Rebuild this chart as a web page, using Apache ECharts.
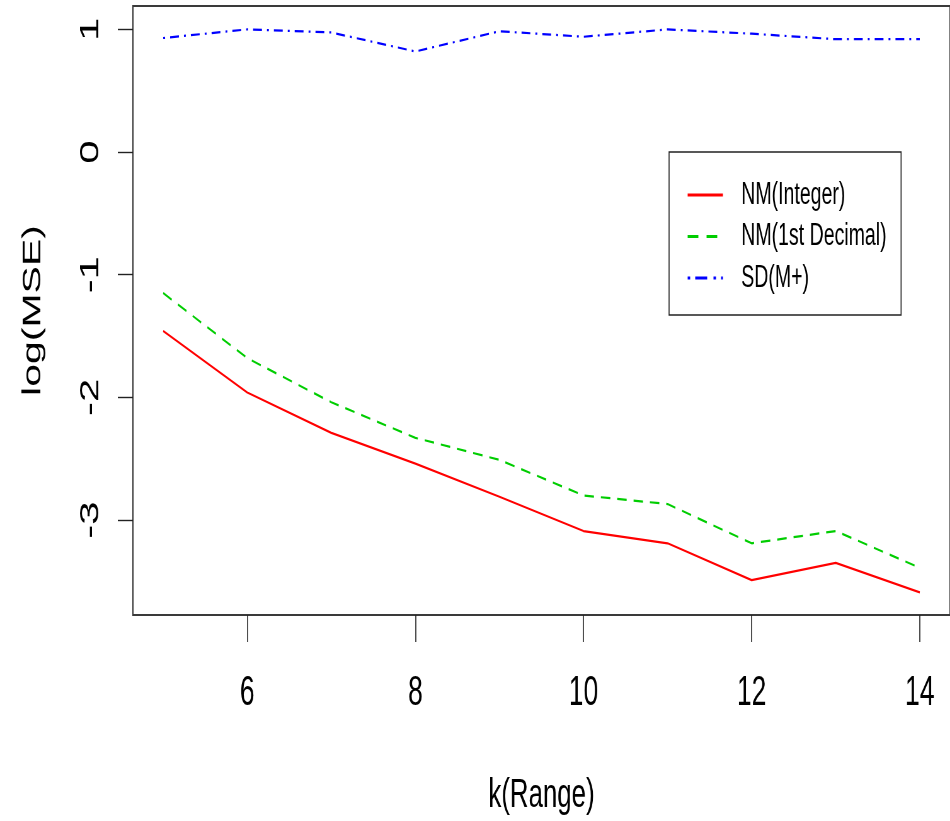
<!DOCTYPE html>
<html>
<head>
<meta charset="utf-8">
<script src="https://cdn.jsdelivr.net/npm/echarts@6/dist/echarts.min.js"></script>
<style>
html,body{margin:0;padding:0;background:#fff;overflow:hidden;}
#wrap{width:950px;height:821px;overflow:hidden;position:relative;}
#chart{width:1508px;height:821px;transform:scaleX(0.63);transform-origin:0 0;position:absolute;left:0;top:0;}
</style>
</head>
<body>
<div id="wrap"><div id="chart"></div></div>
<script>
// Data
const kRange = [5, 6, 7, 8, 9, 10, 11, 12, 13, 14];
const nmInteger = [-1.46, -1.96, -2.29, -2.54, -2.81, -3.09, -3.19, -3.49, -3.35, -3.59];
const nmDecimal = [-1.15, -1.68, -2.04, -2.33, -2.51, -2.80, -2.87, -3.19, -3.09, -3.39];
const sdMplus   = [0.93, 1.00, 0.975, 0.82, 0.985, 0.94, 1.00, 0.965, 0.92, 0.92];
const xTicks = [6, 8, 10, 12, 14];
const yTicks = [-3, -2, -1, 0, 1];
const seriesNames = ['NM(Integer)', 'NM(1st Decimal)', 'SD(M+)'];

const pairs = arr => kRange.map((k, i) => [k, arr[i]]);
const FONT = "'Liberation Sans', Arial, sans-serif";

const chart = echarts.init(document.getElementById('chart'), null, {renderer: 'canvas'});
chart.setOption({
  animation: false,
  backgroundColor: '#ffffff',
  textStyle: {fontFamily: FONT, color: '#000'},
  grid: {
    left: 211, right: -3, top: 6, bottom: 206,
    show: true, borderColor: '#3a3a3a', borderWidth: 2, backgroundColor: 'transparent',
    containLabel: false
  },
  legend: {
    orient: 'vertical',
    left: 1062, top: 152,
    padding: [27, 23, 21, 28],
    borderColor: '#222', borderWidth: 1.6, borderRadius: 0,
    itemWidth: 56, itemHeight: 14, itemGap: 9.5,
    itemStyle: {color: 'rgba(0,0,0,0)', borderColor: 'rgba(0,0,0,0)', borderWidth: 0},
    lineStyle: {width: 3},
    textStyle: {fontSize: 31, fontFamily: FONT, color: '#000', lineHeight: 32, padding: [0, 0, 0, 24]},
    data: [
      {name: seriesNames[0]},
      {name: seriesNames[1], lineStyle: {type: [17, 13], width: 3}},
      {name: seriesNames[2], lineStyle: {type: [4, 8, 19, 10], width: 3}}
    ]
  },
  xAxis: {
    type: 'value', min: 4.64, max: 14.36,
    name: 'k(Range)', nameLocation: 'middle', nameGap: 160,
    nameTextStyle: {fontSize: 41, fontFamily: FONT, color: '#000'},
    axisLine: {show: false, onZero: false},
    splitLine: {show: false},
    axisTick: {show: true, length: 27, lineStyle: {color: '#222', width: 1.6}, customValues: xTicks},
    axisLabel: {fontSize: 42, fontFamily: FONT, color: '#000', margin: 57, customValues: xTicks}
  },
  yAxis: {
    type: 'value', min: -3.7746, max: 1.1908,
    name: 'log(MSE)', nameLocation: 'middle', nameGap: 138, nameRotate: 90,
    nameTextStyle: {fontSize: 41, fontFamily: FONT, color: '#000'},
    axisLine: {show: false, onZero: false},
    splitLine: {show: false},
    axisTick: {show: true, length: 24, lineStyle: {color: '#222', width: 1.4}, customValues: yTicks},
    axisLabel: {fontSize: 42, fontFamily: FONT, color: '#000', rotate: 90, margin: 46, customValues: yTicks}
  },
  series: [
    {
      name: seriesNames[0], type: 'line', data: pairs(nmInteger), symbol: 'none',
      lineStyle: {color: '#FF0000', width: 2.2, type: 'solid'}, itemStyle: {color: '#FF0000'}
    },
    {
      name: seriesNames[1], type: 'line', data: pairs(nmDecimal), symbol: 'none',
      lineStyle: {color: '#00CD00', width: 2.2, type: [15, 11]}, itemStyle: {color: '#00CD00'}
    },
    {
      name: seriesNames[2], type: 'line', data: pairs(sdMplus), symbol: 'none',
      lineStyle: {color: '#0000FF', width: 2.2, type: [3, 8, 14, 8]}, itemStyle: {color: '#0000FF'}
    }
  ]
});
</script>
</body>
</html>
